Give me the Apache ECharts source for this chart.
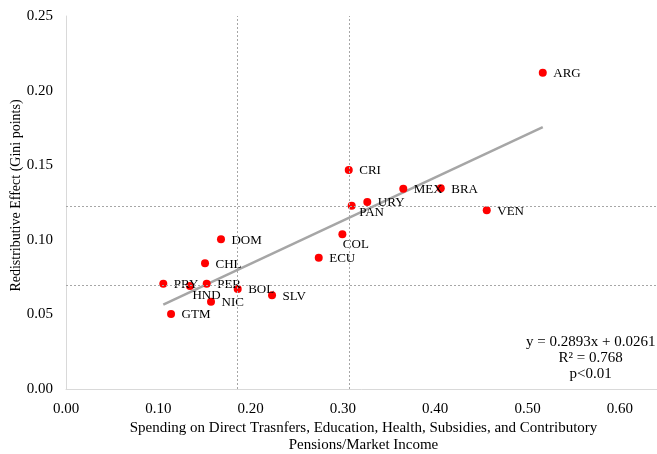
<!DOCTYPE html>
<html>
<head>
<meta charset="utf-8">
<script src="https://cdn.jsdelivr.net/npm/echarts@6/dist/echarts.min.js"></script>
<style>html,body{margin:0;padding:0;background:#fff;}#c{width:657px;height:454px;}</style>
</head>
<body>
<div id="c"></div>
<script>
var countries = ['ARG','CRI','MEX','BRA','URY','PAN','VEN','COL','ECU','DOM','CHL','PRY','HND','PER','BOL','SLV','NIC','GTM'];
var spending  = [0.5165,0.3063,0.3654,0.4060,0.3264,0.3095,0.4558,0.2994,0.2738,0.1679,0.1506,0.1054,0.1343,0.1524,0.1860,0.2232,0.1571,0.1138];
var effect    = [0.2120,0.1468,0.1342,0.1345,0.1253,0.1229,0.1198,0.1037,0.0880,0.1003,0.0842,0.0706,0.0690,0.0706,0.0670,0.0628,0.0585,0.0503];
var refX = [0.186, 0.3066];
var refY = [0.0697, 0.1227];
var slope = 0.2893, intercept = 0.0261;
var xTicks = [0, 0.1, 0.2, 0.3, 0.4, 0.5, 0.6];
var yTicks = [0, 0.05, 0.1, 0.15, 0.2, 0.25];
var eqLines = ['y = 0.2893x + 0.0261', 'R² = 0.768', 'p<0.01'];
var xTitle = 'Spending on Direct Trasnfers, Education, Health, Subsidies, and Contributory\nPensions/Market Income';
var yTitle = 'Redistributive Effect (Gini points)';

var labelOffsets = { HND: [-8, 10], COL: [-10, 10], PAN: [-3, 7] };
var FONT = 'Liberation Serif';

var pts = countries.map(function (c, i) {
  var off = labelOffsets[c] || [0, 1];
  return { name: c, value: [spending[i], effect[i]], label: { offset: off } };
});
var xmin = Math.min.apply(null, spending), xmax = Math.max.apply(null, spending);
var trend = [[xmin, slope * xmin + intercept], [xmax, slope * xmax + intercept]];

var refLineStyle = { color: '#A6A6A6', width: 1, type: [2, 2] };
var markData = refX.map(function (v) { return { xAxis: v }; })
  .concat(refY.map(function (v) { return { yAxis: v }; }));

var chart = echarts.init(document.getElementById('c'), null, { renderer: 'canvas' });
chart.setOption({
  animation: false,
  backgroundColor: '#fff',
  textStyle: { fontFamily: FONT },
  grid: { left: 66, right: -9, top: 16, bottom: 65, containLabel: false, outerBoundsMode: 'none' },
  xAxis: {
    type: 'value', min: 0, max: 0.65, interval: 0.1,
    axisLine: { lineStyle: { color: '#D9D9D9', width: 1 } },
    axisTick: { show: false },
    splitLine: { show: false },
    axisLabel: {
      color: '#000', fontSize: 15, fontFamily: FONT, margin: 13, showMaxLabel: false,
      formatter: function (v) { return xTicks.some(function (t) { return Math.abs(t - v) < 1e-9; }) ? v.toFixed(2) : ''; }
    },
    name: xTitle, nameLocation: 'middle', nameGap: 31, nameMoveOverlap: false,
    nameTextStyle: { color: '#000', fontSize: 15, fontFamily: FONT, lineHeight: 17, padding: [0, 5, 0, 0] }
  },
  yAxis: {
    type: 'value', min: 0, max: 0.25, interval: 0.05,
    axisLine: { show: true, lineStyle: { color: '#D9D9D9', width: 1 } },
    axisTick: { show: false },
    splitLine: { show: false },
    axisLabel: {
      color: '#000', fontSize: 15, fontFamily: FONT, margin: 13,
      formatter: function (v) { return yTicks.some(function (t) { return Math.abs(t - v) < 1e-9; }) ? v.toFixed(2) : ''; }
    },
    name: yTitle, nameLocation: 'middle', nameGap: 43, nameMoveOverlap: false,
    nameTextStyle: { color: '#000', fontSize: 14, fontFamily: FONT, padding: [0, 0, 0, 14] }
  },
  series: [
    {
      type: 'line', data: trend, symbol: 'none', silent: true,
      lineStyle: { color: '#A6A6A6', width: 2.5 },
      z: 2,
      markLine: {
        silent: true, symbol: 'none', precision: 6, label: { show: false },
        lineStyle: refLineStyle, data: markData
      }
    },
    {
      type: 'scatter', data: pts, symbol: 'circle', symbolSize: 8,
      itemStyle: { color: '#FF0000', opacity: 1 }, z: 3,
      label: {
        show: true, position: 'right', distance: 6.5,
        formatter: function (p) { return p.name; },
        color: '#000', fontSize: 13, fontFamily: FONT
      }
    }
  ],
  graphic: eqLines.map(function (t, i) {
    return {
      type: 'text', x: 590.7, y: 342 + i * 16,
      style: { text: t, fill: '#000', font: '15px "' + FONT + '"', textAlign: 'center', textVerticalAlign: 'middle' }
    };
  })
});
</script>
</body>
</html>
